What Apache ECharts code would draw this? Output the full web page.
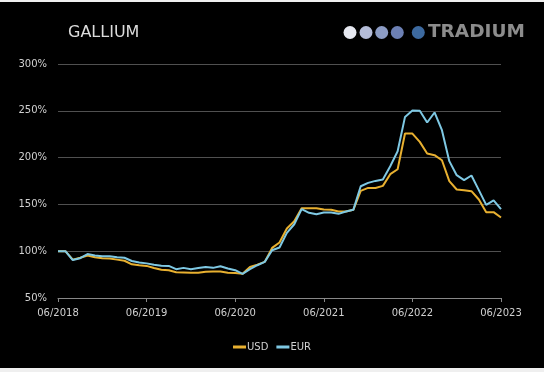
<!DOCTYPE html>
<html>
<head>
<meta charset="utf-8">
<script src="https://cdn.jsdelivr.net/npm/echarts@6/dist/echarts.min.js"></script>
<style>
html,body{margin:0;padding:0;background:#efefef;width:544px;height:372px;overflow:hidden;}
#c{position:absolute;left:0;top:2px;width:544px;height:366px;background:#000;}
</style>
</head>
<body>
<div id="c"></div>
<script>
var startYear = 2018, startMonth = 6, monthCount = 61;
var tickLabels = ['06/2018','06/2019','06/2020','06/2021','06/2022','06/2023'];
var usd = [100,100,91,93,95.4,93.5,92.5,92.2,91,89.8,86,85,84.3,82,80.2,79.7,77.6,77.3,77,77,78,78.3,78.3,77,76.6,75.8,83.2,85.7,88.6,103.5,109.3,124.3,132,146,146,146,144.5,144.2,142.4,142.4,144.2,164.5,167.6,167.6,169.8,182.3,187.6,225.7,225.7,216.8,204.4,202.6,197.2,174.8,165.9,165.2,164.1,155.2,141.7,141.7,136];
var eur = [100,100,90.5,92.5,97,95.5,94.6,94.6,93.5,93,89.5,88,87,85.5,84.5,84.3,80.8,82.2,80.8,82,83.2,82.2,84,81.5,79.7,75.8,80.8,85,88.6,101,104,119.6,128.8,144.9,141,139.5,141.3,141.3,139.9,142.4,144.2,169.4,173,175.1,176.6,190.8,206.8,243.5,250.3,250,237.5,248.2,229.3,196.2,181.2,175.9,180.9,165.2,149.5,154.2,144.9];

var categories = [];
for (var i = 0; i < monthCount; i++) {
  var m = (startMonth - 1 + i) % 12 + 1;
  var y = startYear + Math.floor((startMonth - 1 + i) / 12);
  categories.push((m < 10 ? '0' : '') + m + '/' + y);
}

var chart = echarts.init(document.getElementById('c'), null, {renderer: 'canvas'});
var F = 'DejaVu Sans';
var option = {
  backgroundColor: '#000',
  animation: false,
  graphic: [
    {type: 'text', left: 68, top: 23, style: {text: 'GALLIUM', fill: '#dcdcdc', font: 'normal 16px "DejaVu Sans"'}},
    {type: 'circle', shape: {cx: 350, cy: 30.5, r: 6.5}, style: {fill: '#e6e8f0'}},
    {type: 'circle', shape: {cx: 366, cy: 30.5, r: 6.5}, style: {fill: '#b4bcd8'}},
    {type: 'circle', shape: {cx: 381.7, cy: 30.5, r: 6.5}, style: {fill: '#8c9cc4'}},
    {type: 'circle', shape: {cx: 397.3, cy: 30.5, r: 6.5}, style: {fill: '#6c80b4'}},
    {type: 'circle', shape: {cx: 418.3, cy: 30.5, r: 6.5}, style: {fill: '#3d6aa0'}},
    {type: 'text', left: 428, top: 21, style: {text: 'TRADIUM', fill: '#8c8c8c', font: 'bold 18.5px "DejaVu Sans"'}}
  ],
  grid: {left: 58, right: 43, top: 62, bottom: 70},
  legend: {
    bottom: 11,
    left: 'center',
    itemWidth: 13,
    itemHeight: 3,
    itemGap: 8,
    icon: 'rect',
    textStyle: {color: '#d0d0d0', fontFamily: F, fontSize: 10, padding: [0,0,0,-4]},
    data: ['USD', 'EUR']
  },
  xAxis: {
    type: 'category',
    data: categories,
    boundaryGap: false,
    axisLine: {lineStyle: {color: '#888', width: 1}},
    axisTick: {interval: 11, length: 4, lineStyle: {color: '#888'}},
    axisLabel: {
      interval: 11, color: '#d0d0d0', fontFamily: F, fontSize: 10, margin: 10,
      formatter: function (v) { return tickLabels.indexOf(v) >= 0 ? v : ''; }
    },
    splitLine: {show: false}
  },
  yAxis: {
    type: 'value',
    min: 50, max: 300, interval: 50,
    axisLine: {show: false},
    axisTick: {show: false},
    axisLabel: {color: '#d0d0d0', fontFamily: F, fontSize: 10, margin: 11, formatter: '{value}%'},
    splitLine: {lineStyle: {color: '#505050', width: 1}}
  },
  series: [
    {name: 'USD', type: 'line', data: usd, showSymbol: false, symbol: 'none', lineStyle: {color: '#e8b030', width: 2}, itemStyle: {color: '#e8b030'}},
    {name: 'EUR', type: 'line', data: eur, showSymbol: false, symbol: 'none', lineStyle: {color: '#7ec8e3', width: 2}, itemStyle: {color: '#7ec8e3'}}
  ]
};
chart.setOption(option);
</script>
</body>
</html>
